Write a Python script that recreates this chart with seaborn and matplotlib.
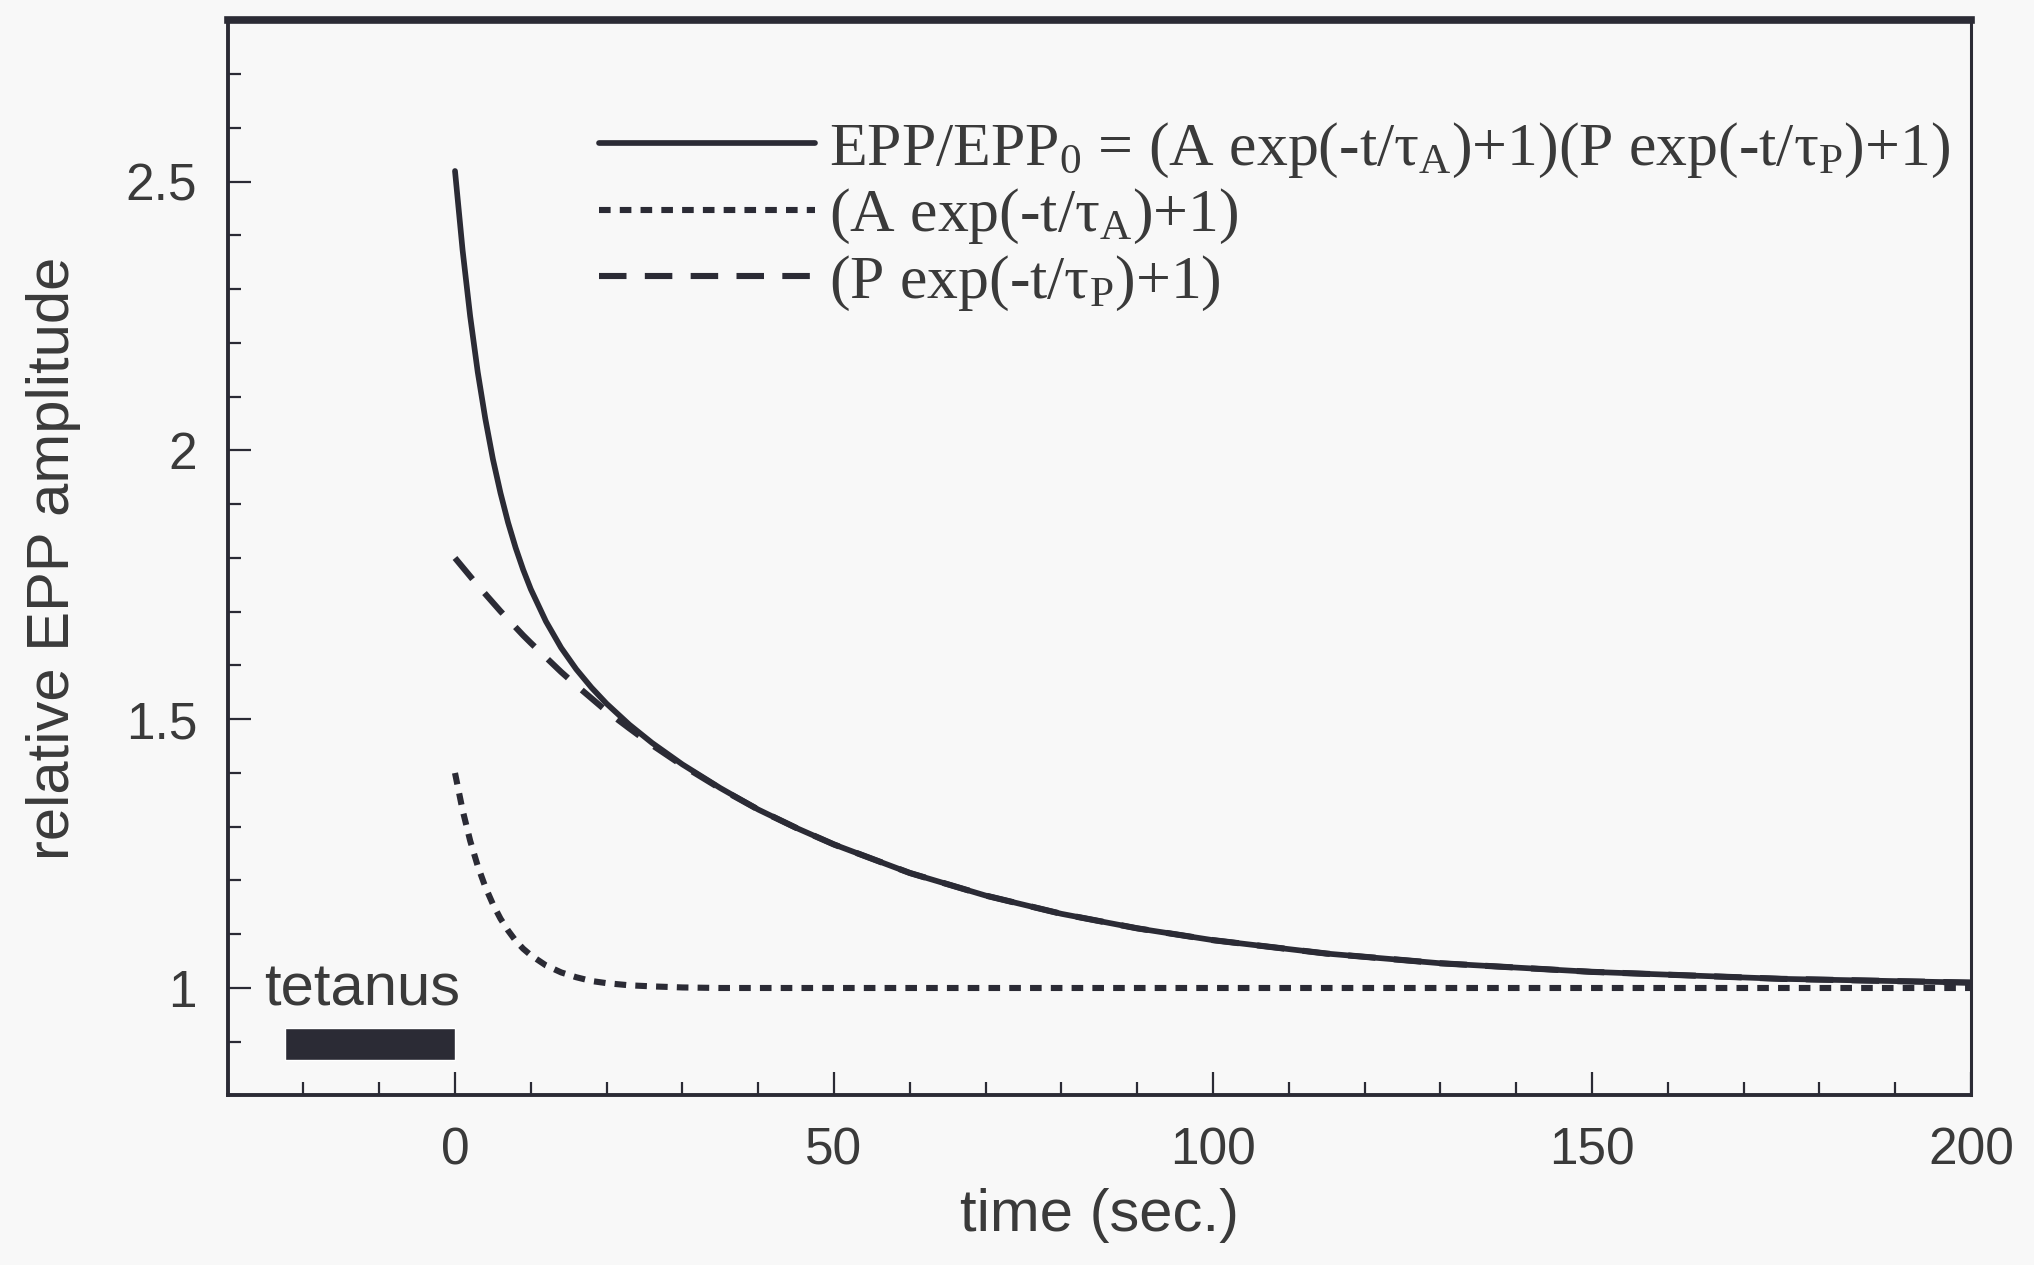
import matplotlib
matplotlib.use('Agg')
import matplotlib.pyplot as plt
from matplotlib.ticker import MultipleLocator, FuncFormatter
import seaborn as sns
import pandas as pd

# values (time in sec., relative EPP amplitude)
t = [0, 1, 2, 3, 4, 5, 6, 7, 8, 9, 10, 12, 14, 16, 18, 20, 23, 26, 30, 35,
     40, 45, 50, 60, 70, 80, 90, 100, 115, 130, 150, 175, 200]
epp_total = [2.520, 2.373, 2.250, 2.146, 2.059, 1.984, 1.921, 1.866, 1.819, 1.778,
             1.742, 1.682, 1.633, 1.593, 1.559, 1.529, 1.490, 1.456, 1.416, 1.372,
             1.332, 1.298, 1.267, 1.214, 1.172, 1.138, 1.111, 1.089, 1.064, 1.046,
             1.030, 1.017, 1.010]
epp_A = [1.400, 1.331, 1.274, 1.227, 1.188, 1.156, 1.129, 1.107, 1.088, 1.073,
         1.061, 1.042, 1.029, 1.020, 1.013, 1.009, 1.005, 1.003, 1.001, 1.000,
         1.000, 1.000, 1.000, 1.000, 1.000, 1.000, 1.000, 1.000, 1.000, 1.000,
         1.000, 1.000, 1.000]
epp_P = [1.800, 1.783, 1.766, 1.749, 1.733, 1.717, 1.701, 1.686, 1.671, 1.656,
         1.642, 1.615, 1.588, 1.563, 1.539, 1.515, 1.483, 1.452, 1.414, 1.371,
         1.332, 1.298, 1.267, 1.214, 1.172, 1.138, 1.111, 1.089, 1.064, 1.046,
         1.030, 1.017, 1.010]

# tetanus bar
tetanus_start, tetanus_end = -22.4, 0.0
tetanus_low, tetanus_high = 0.866, 0.926

labels = [r'EPP/EPP$_0$ = (A exp(-t/τ$_\mathrm{A}$)+1)(P exp(-t/τ$_\mathrm{P}$)+1)',
          r'(A exp(-t/τ$_\mathrm{A}$)+1)',
          r'(P exp(-t/τ$_\mathrm{P}$)+1)']

df = pd.DataFrame({'t': t, 'total': epp_total, 'A': epp_A, 'P': epp_P})

sns.set_style('ticks')
plt.rcParams['font.family'] = ['Liberation Sans', 'DejaVu Sans']
plt.rcParams['mathtext.fontset'] = 'custom'
plt.rcParams['mathtext.rm'] = 'Liberation Serif'
plt.rcParams['mathtext.it'] = 'Liberation Serif:italic'

bg = '#f8f8f8'
ink = '#2b2b35'
txt = '#3a3a3a'

fig = plt.figure(figsize=(20.34, 12.65), dpi=100, facecolor=bg)
ax = fig.add_axes([0.1119, 0.134, 0.8571, 0.8498])
ax.set_facecolor(bg)

# tetanus bar
ax.barh(y=(tetanus_low + tetanus_high) / 2, width=tetanus_end - tetanus_start,
        left=tetanus_start, height=tetanus_high - tetanus_low, color=ink, zorder=2)
ax.text(-12.3, 0.968, 'tetanus', ha='center', va='baseline', fontsize=43, color=txt)

# curves
sns.lineplot(data=df, x='t', y='P', ax=ax, color=ink, lw=4.4, label=labels[2])
ax.lines[-1].set_dashes((4.5, 3.0))
sns.lineplot(data=df, x='t', y='A', ax=ax, color=ink, lw=4.4, label=labels[1])
ax.lines[-1].set_dashes((1.9, 1.5))
sns.lineplot(data=df, x='t', y='total', ax=ax, color=ink, lw=4.1, label=labels[0])

h, l = ax.get_legend_handles_labels()
order = [2, 1, 0]
ax.legend([h[i] for i in order], [l[i] for i in order], loc='upper left',
          bbox_to_anchor=(0.213, 0.907), frameon=False, borderpad=0, borderaxespad=0,
          prop={'family': 'Liberation Serif', 'size': 44.5}, handlelength=3.5,
          handletextpad=0.23, labelspacing=0.12, labelcolor=txt)

ax.set_xlim(-30, 200)
ax.set_ylim(0.8, 2.8)
ax.xaxis.set_major_locator(MultipleLocator(50))
ax.xaxis.set_minor_locator(MultipleLocator(10))
ax.yaxis.set_major_locator(MultipleLocator(0.5))
ax.yaxis.set_minor_locator(MultipleLocator(0.1))
ax.yaxis.set_major_formatter(FuncFormatter(lambda v, p: f'{v:g}'))

ax.tick_params(which='both', direction='in', color=ink, width=1.6, labelsize=37,
               labelcolor=txt, pad=22)
ax.tick_params(which='major', length=16.5)
ax.tick_params(which='minor', length=9.4)

for side in ['left', 'bottom', 'right']:
    ax.spines[side].set_linewidth(2.8)
    ax.spines[side].set_color(ink)
ax.spines['right'].set_linewidth(2.2)
ax.spines['top'].set_linewidth(5.5)
ax.spines['top'].set_color(ink)

ax.set_xlabel('time (sec.)', fontsize=43, color=txt, labelpad=9)
ax.set_ylabel('relative EPP amplitude', fontsize=43, color=txt, labelpad=32)

plt.savefig('out.png', dpi=100, facecolor=bg)
plt.close()
